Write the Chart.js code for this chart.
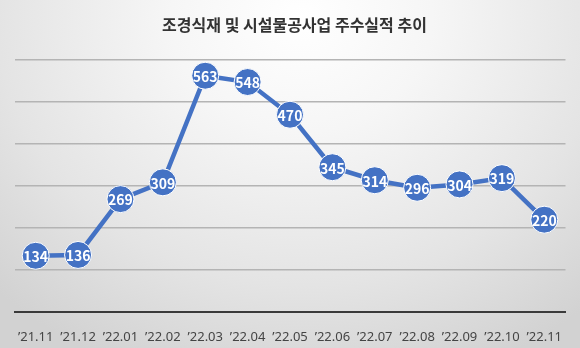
<!DOCTYPE html>
<html lang="ko">
<head>
    <meta charset="UTF-8">
    <title>조경식재 및 시설물공사업 주수실적 추이</title>
    <script src="https://cdn.jsdelivr.net/npm/chart.js"></script>
    <style>
        html, body {
            margin: 0;
            padding: 0;
            background: #e6e6e6;
        }
        #wrap {
            width: 580px;
            height: 348px;
            background: radial-gradient(ellipse 75% 110% at 52% 5%, #ffffff 0%, #f6f6f6 30%, #e4e4e4 70%, #d2d2d2 100%);
        }
    </style>
</head>
<body>
    <div id="wrap"><canvas id="trend" width="580" height="348"></canvas></div>

    <script>
        const chartTitle = '조경식재 및 시설물공사업 주수실적 추이';
        const months = ['\u201921.11', '\u201921.12', '\u201922.01', '\u201922.02', '\u201922.03', '\u201922.04', '\u201922.05',
                        '\u201922.06', '\u201922.07', '\u201922.08', '\u201922.09', '\u201922.10', '\u201922.11'];
        const orders = [134, 136, 269, 309, 563, 548, 470, 345, 314, 296, 304, 319, 220];

        // white value text on top of each marker
        const valueLabels = {
            id: 'valueLabels',
            afterDatasetsDraw(chart) {
                const c = chart.ctx;
                const meta = chart.getDatasetMeta(0);
                c.save();
                c.fillStyle = '#ffffff';
                c.font = 'bold 14px "Noto Sans CJK KR", "Noto Sans", sans-serif';
                c.textAlign = 'center';
                c.textBaseline = 'middle';
                meta.data.forEach((pt, i) => {
                    c.fillText(String(orders[i]), pt.x, pt.y + 1);
                });
                c.restore();
            }
        };

        new Chart(document.getElementById('trend'), {
            type: 'line',
            data: {
                labels: months,
                datasets: [{
                    data: orders,
                    borderColor: '#4472C4',
                    borderWidth: 4.5,
                    backgroundColor: '#4472C4',
                    pointRadius: 13.5,
                    pointHoverRadius: 13.5,
                    pointBackgroundColor: '#4472C4',
                    pointBorderColor: '#ffffff',
                    pointBorderWidth: 1,
                    tension: 0,
                    clip: false
                }]
            },
            options: {
                responsive: false,
                animation: false,
                layout: { padding: { left: 12, right: 3, top: 0, bottom: 0 } },
                plugins: {
                    legend: { display: false },
                    tooltip: { enabled: false },
                    title: {
                        display: true,
                        text: chartTitle,
                        color: '#333333',
                        font: { family: '"Noto Sans CJK KR", sans-serif', size: 16, weight: 'bold' },
                        padding: { top: 15, bottom: 26 }
                    }
                },
                scales: {
                    x: {
                        offset: true,
                        grid: { display: false, drawTicks: false },
                        border: { display: true, color: '#3a3a3a', width: 2 },
                        ticks: {
                            color: '#444444',
                            font: { family: '"Noto Sans", sans-serif', size: 13 },
                            padding: 17,
                            maxRotation: 0,
                            autoSkip: false
                        },
                        afterFit(scale) { scale.height = 36; }
                    },
                    y: {
                        min: 0,
                        max: 600,
                        ticks: { display: false, stepSize: 100 },
                        grid: { color: '#b4b4b4', lineWidth: 1.5, drawTicks: false },
                        border: { display: false }
                    }
                }
            },
            plugins: [valueLabels]
        });
    </script>
</body>
</html>
